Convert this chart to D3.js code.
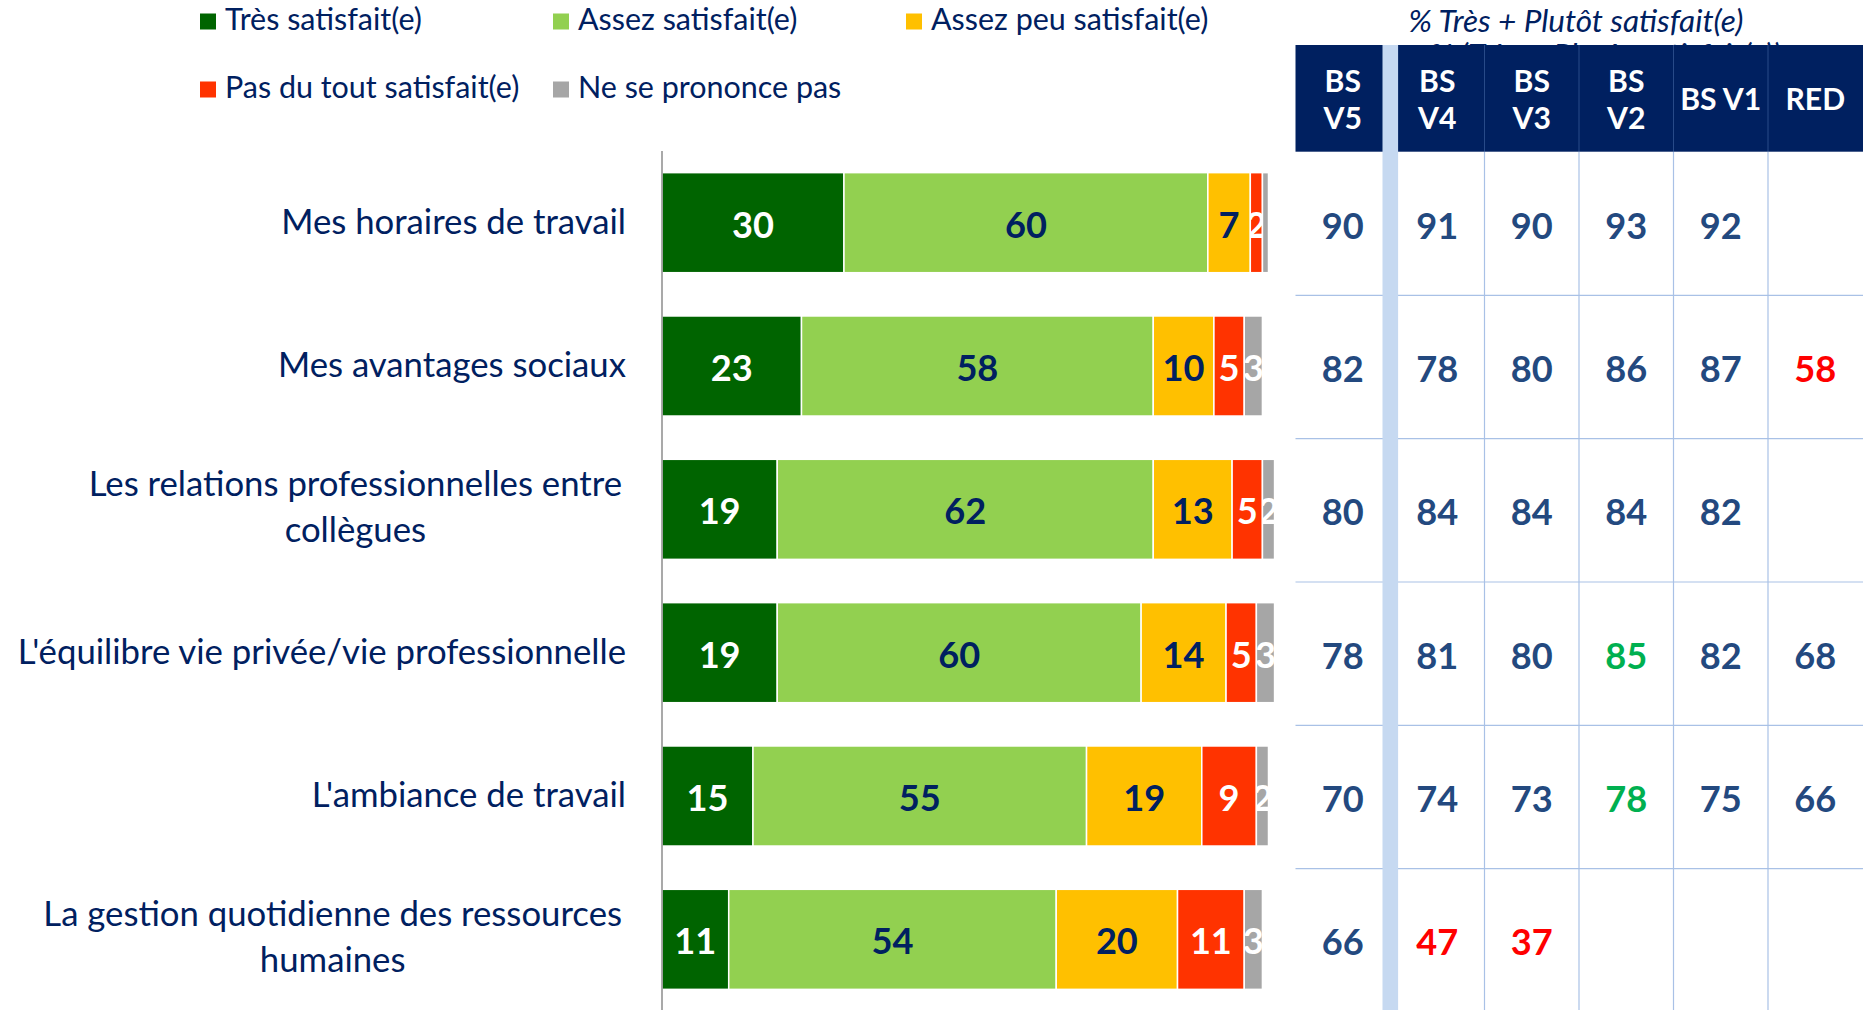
<!DOCTYPE html>
<html><head><meta charset="utf-8">
<script src="https://cdn.jsdelivr.net/npm/d3@7"></script>
<style>html,body{margin:0;padding:0;background:#fff;}svg{display:block;}</style>
</head><body>
<svg id="chart" width="1863" height="1010"></svg>
<script>
// ---------- DATA ----------
const categories = [
  "Mes horaires de travail",
  "Mes avantages sociaux",
  "Les relations professionnelles entre\ncollègues",
  "L'équilibre vie privée/vie professionnelle",
  "L'ambiance de travail",
  "La gestion quotidienne des ressources\nhumaines"
];
const seriesNames = ["Très satisfait(e)", "Assez satisfait(e)", "Assez peu satisfait(e)", "Pas du tout satisfait(e)", "Ne se prononce pas"];
const tres      = [30, 23, 19, 19, 15, 11];
const assez     = [60, 58, 62, 60, 55, 54];
const assezPeu  = [7, 10, 13, 14, 19, 20];
const pasDuTout = [2, 5, 5, 5, 9, 11];
const nsp       = [1, 3, 2, 3, 2, 3];

const tableTitle = "% Très + Plutôt satisfait(e)";
const colLabels = ["BS\nV5", "BS\nV4", "BS\nV3", "BS\nV2", "BS V1", "RED"];
const bsV5 = [90, 82, 80, 78, 70, 66];
const bsV4 = [91, 78, 84, 81, 74, 47];
const bsV3 = [90, 80, 84, 80, 73, 37];
const bsV2 = [93, 86, 84, 85, 78, null];
const bsV1 = [92, 87, 82, 82, 75, null];
const red  = [null, 58, null, 68, 66, null];
// significance flags: "+" higher, "-" lower, "" none
const sigV5 = ["", "", "", "", "", ""];
const sigV4 = ["", "", "", "", "", "-"];
const sigV3 = ["", "", "", "", "", "-"];
const sigV2 = ["", "", "", "+", "+", ""];
const sigV1 = ["", "", "", "", "", ""];
const sigRed = ["", "-", "", "", "", ""];

// ---------- STYLE ----------
const seriesColors = ["#006400", "#92D050", "#FFC000", "#FF3300", "#A6A6A6"];
const labelColors  = ["#ffffff", "#002060", "#002060", "#ffffff", "#ffffff"];
const navy = "#002060";
const tableText = "#23497F";
const sigColor = {"+": "#00B050", "-": "#FF0000", "": tableText};
const FONT = "Lato, 'Open Sans', 'Noto Sans', sans-serif";

const svg = d3.select("#chart");

function fitSize(text, weight, style, target) {
  const t = svg.append("text").attr("font-family", FONT).attr("font-weight", weight)
    .attr("font-style", style).attr("font-size", 100).text(text);
  const w = t.node().getComputedTextLength();
  t.remove();
  return 100 * target / w;
}
const catFS    = fitSize("Mes horaires de travail", "normal", "normal", 345);
const legFS    = fitSize("Très satisfait(e)", "normal", "normal", 197);
const titleFS  = fitSize(tableTitle, "normal", "italic", 335);
const headFS   = fitSize("BS V1", "bold", "normal", 81);
const valFS    = fitSize("30", "bold", "normal", 42);

// ---------- SCALES ----------
const y = d3.scaleBand().domain(d3.range(categories.length)).range([151, 1011])
  .paddingInner(0.302).paddingOuter(0.151);
const x = d3.scaleLinear().domain([0, 100]).range([662, 1268.5]);
const color = d3.scaleOrdinal().domain(seriesNames).range(seriesColors);

const rows = categories.map((c, i) => ({
  cat: c, i,
  [seriesNames[0]]: tres[i], [seriesNames[1]]: assez[i], [seriesNames[2]]: assezPeu[i],
  [seriesNames[3]]: pasDuTout[i], [seriesNames[4]]: nsp[i]
}));
const stacked = d3.stack().keys(seriesNames)(rows);

// ---------- LEGEND ----------
const legendPos = [[200, 30], [553, 30], [906, 30], [200, 98], [553, 98]];
const leg = svg.append("g");
seriesNames.forEach((s, k) => {
  const [lx, ly] = legendPos[k];
  leg.append("rect").attr("x", lx).attr("y", ly - 16.5).attr("width", 16).attr("height", 16)
    .attr("fill", color(s));
  leg.append("text").attr("x", lx + 25).attr("y", ly).attr("font-family", FONT)
    .attr("font-size", legFS).attr("fill", navy).text(s);
});

// ---------- BARS ----------
const clipDefs = svg.append("defs");
const barG = svg.append("g");
stacked.forEach((layer, k) => {
  layer.forEach((d, i) => {
    const x0 = x(d[0]), x1 = x(d[1]);
    const id = `clip-${k}-${i}`;
    clipDefs.append("clipPath").attr("id", id).append("rect")
      .attr("x", x0).attr("y", y(i)).attr("width", x1 - x0).attr("height", y.bandwidth());
    barG.append("rect").attr("x", x0).attr("y", y(i)).attr("width", x1 - x0)
      .attr("height", y.bandwidth()).attr("fill", seriesColors[k])
      .attr("stroke", "#fff").attr("stroke-width", 1.5);
    const v = d[1] - d[0];
    if (v >= 2) {
      barG.append("text").attr("clip-path", `url(#${id})`)
        .attr("x", (x0 + x1) / 2).attr("y", y(i) + y.bandwidth() / 2 + valFS * 0.36 + 2)
        .attr("text-anchor", "middle").attr("font-family", FONT).attr("font-weight", "bold")
        .attr("font-size", valFS).attr("fill", labelColors[k]).text(v);
    }
  });
});
// axis line
svg.append("line").attr("x1", x(0)).attr("x2", x(0)).attr("y1", 151).attr("y2", 1010)
  .attr("stroke", "#8c8c8c").attr("stroke-width", 1.5);

// ---------- CATEGORY LABELS ----------
const catG = svg.append("g");
categories.forEach((c, i) => {
  const lines = c.split("\n");
  const cy = y(i) + y.bandwidth() / 2;
  if (lines.length === 1) {
    catG.append("text").attr("x", 626).attr("y", cy + 11).attr("text-anchor", "end")
      .attr("font-family", FONT).attr("font-size", catFS).attr("fill", navy).text(c);
  } else {
    const tmp = catG.append("text").attr("font-family", FONT).attr("font-size", catFS).text(lines[0]);
    const w1 = tmp.node().getComputedTextLength(); tmp.remove();
    const cx = 622 - w1 / 2;
    lines.forEach((ln, j) => {
      catG.append("text").attr("x", cx).attr("y", cy + 11 - 24 + j * 46).attr("text-anchor", "middle")
        .attr("font-family", FONT).attr("font-size", catFS).attr("fill", navy).text(ln);
    });
  }
});

// ---------- TABLE ----------
const cols = [bsV5, bsV4, bsV3, bsV2, bsV1, red];
const sigs = [sigV5, sigV4, sigV3, sigV2, sigV1, sigRed];
const xc = d3.scaleBand().domain(d3.range(colLabels.length)).range([1295.5, 1862.5]);
const headTop = 45, headBot = 151.7;

// ghost title (partly hidden behind header)
clipDefs.append("clipPath").attr("id", "ghostclip").append("rect")
  .attr("x", 1290).attr("y", 0).attr("width", 573).attr("height", headTop);
svg.append("text").attr("clip-path", "url(#ghostclip)").attr("x", 1605).attr("y", 66)
  .attr("text-anchor", "middle")
  .attr("font-family", FONT).attr("font-style", "italic").attr("font-size", titleFS)
  .attr("fill", navy).text("% (Très + Plutôt satisfait(e))");
svg.append("text").attr("x", 1576).attr("y", 31.7).attr("text-anchor", "middle")
  .attr("font-family", FONT).attr("font-style", "italic").attr("font-size", titleFS)
  .attr("fill", navy).text(tableTitle);

svg.append("rect").attr("x", xc(0)).attr("y", headTop).attr("width", 1863 - xc(0))
  .attr("height", headBot - headTop).attr("fill", navy);

// row lines
const step = y.step(), gap = step - y.bandwidth();
d3.range(1, categories.length).forEach(i => {
  const yy = y(i) - gap / 2 + 1;
  svg.append("line").attr("x1", xc(0)).attr("x2", 1863).attr("y1", yy).attr("y2", yy)
    .attr("stroke", "#A9C1E6").attr("stroke-width", 1.2);
});
// column lines
d3.range(2, colLabels.length).forEach(j => {
  const xx = xc(j);
  svg.append("line").attr("x1", xx).attr("x2", xx).attr("y1", headBot).attr("y2", 1010)
    .attr("stroke", "#A9C1E6").attr("stroke-width", 1.2);
  svg.append("line").attr("x1", xx).attr("x2", xx).attr("y1", headTop).attr("y2", headBot)
    .attr("stroke", "#3A5C9A").attr("stroke-width", 1).attr("opacity", 0.7);
});
// light blue strip between V5 and V4
svg.append("rect").attr("x", xc(1) - 7.5).attr("y", headTop).attr("width", 15.6)
  .attr("height", 1010 - headTop).attr("fill", "#C6D9F1");

// header labels
colLabels.forEach((lab, j) => {
  const cx = xc(j) + xc.bandwidth() / 2;
  const lines = lab.split("\n");
  const base = lines.length === 1 ? [110] : [91.7, 129.3];
  lines.forEach((ln, k) => {
    svg.append("text").attr("x", cx).attr("y", base[k]).attr("text-anchor", "middle")
      .attr("font-family", FONT).attr("font-weight", "bold").attr("font-size", headFS)
      .attr("fill", "#fff").text(ln);
  });
});

// table values
cols.forEach((col, j) => {
  const cx = xc(j) + xc.bandwidth() / 2;
  col.forEach((v, i) => {
    if (v === null) return;
    svg.append("text").attr("x", cx).attr("y", y(i) + y.bandwidth() / 2 + valFS * 0.36 + 3)
      .attr("text-anchor", "middle").attr("font-family", FONT).attr("font-weight", "bold")
      .attr("font-size", valFS).attr("fill", sigColor[sigs[j][i]]).text(v);
  });
});
</script>
</body></html>
